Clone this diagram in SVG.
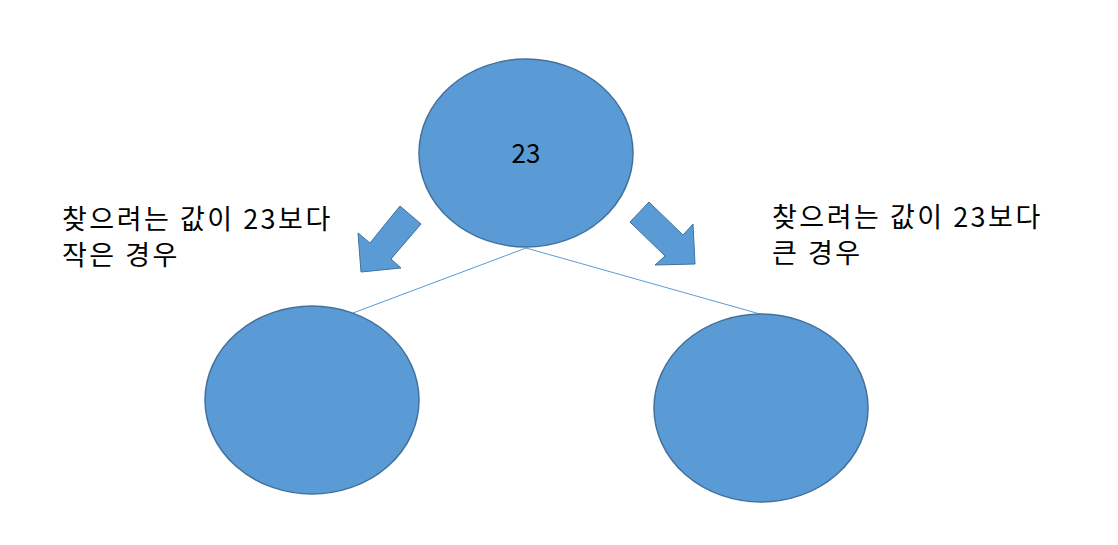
<svg xmlns="http://www.w3.org/2000/svg" width="1118" height="545" viewBox="0 0 1118 545">
<style>
.node{fill:#5B9BD5;stroke:#41719C;stroke-width:1.5}
.arrow{fill:#5B9BD5;stroke:#41719C;stroke-width:1}
.edge{stroke:#5B9BD5;stroke-width:1;fill:none}
.t{font-family:"Noto Sans CJK KR","Noto Sans",sans-serif;font-size:26px;fill:#000}
.lbl{font-size:27px;letter-spacing:2.5px}
</style>
<rect width="1118" height="545" fill="#fff"/>
<g id="connectors">
<line class="edge" x1="526" y1="248" x2="353" y2="313"/>
<line class="edge" x1="526" y1="248" x2="760" y2="314"/>
</g>
<g id="node-root">
<ellipse class="node" cx="526" cy="153" rx="107" ry="94"/>
<text class="t" x="526" y="163" text-anchor="middle">23</text>
</g>
<g id="node-left">
<ellipse class="node" cx="312" cy="400" rx="107" ry="94"/>
</g>
<g id="node-right">
<ellipse class="node" cx="761" cy="408" rx="107" ry="94"/>
</g>
<g id="arrow-left">
<polygon class="arrow" points="400,206 421,224 391,259 401,268 361,272 358,233 370,243"/>
</g>
<g id="arrow-right">
<polygon class="arrow" points="649,202 630,222 665,256 655,265 695,264 693,224 683,235"/>
</g>
<g id="label-left">
<text class="t lbl" x="62" y="229">찾으려는 값이 23보다</text>
<text class="t lbl" x="62" y="265">작은 경우</text>
</g>
<g id="label-right">
<text class="t lbl" x="772" y="227">찾으려는 값이 23보다</text>
<text class="t lbl" x="772" y="263">큰 경우</text>
</g>
</svg>
